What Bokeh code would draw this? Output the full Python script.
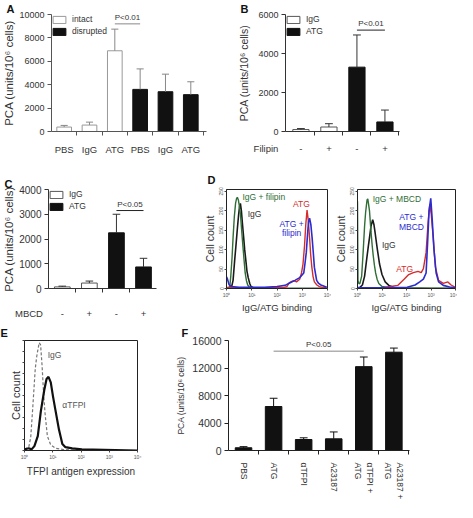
import math
from bokeh.plotting import figure
from bokeh.layouts import column, row
from bokeh.models import FixedTicker, Legend, LegendItem, ColumnDataSource
from bokeh.core.properties import value
from bokeh.embed import file_html
from bokeh.resources import INLINE

FONT = "Liberation Sans"
YLAB = "PCA (units/10\u2076 cells)"
NBSP = "\u00a0"

# ---------------- Panel A ----------------
a_cats = ["PBS", "IgG", "ATG", "PBS", "IgG", "ATG"]
a_groups = ["intact", "intact", "intact", "disrupted", "disrupted", "disrupted"]
a_means = [380, 550, 6900, 3600, 3400, 3150]
a_upper = [520, 800, 8750, 5350, 4900, 4250]
a_yticks = [0, 2000, 4000, 6000, 8000, 10000]
a_pcomp = (3, 4, 9200)
a_ptext = "P<0.01"

# ---------------- Panel B ----------------
b_cats = ["-", "+", "-", "+"]
b_groups = ["IgG", "IgG", "ATG", "ATG"]
b_means = [100, 230, 3300, 490]
b_upper = [150, 400, 4950, 1100]
b_yticks = [0, 2000, 4000, 6000]
b_pcomp = (3, 4, 5200)
b_ptext = "P<0.01"
b_treat = "Filipin"

# ---------------- Panel C ----------------
c_cats = ["-", "+", "-", "+"]
c_groups = ["IgG", "IgG", "ATG", "ATG"]
c_means = [65, 220, 2250, 870]
c_upper = [95, 300, 3000, 1220]
c_yticks = [0, 1000, 2000, 3000, 4000]
c_pcomp = (3, 4, 3150)
c_ptext = "P<0.05"
c_treat = "MBCD"

# ---------------- Panel D (flow cytometry, x in log10 decades) ----------------
d_xticks = [0, 1, 2, 3, 4]
d_xlabels = ["10\u2070", "10\u00b9", "10\u00b2", "10\u00b3", "10\u2074"]
d_yticks = [0, 50, 100, 150, 200, 250]

d1_green_x = [0.0, 0.08, 0.13, 0.17, 0.22, 0.26, 0.31, 0.36, 0.40, 0.43, 0.47, 0.51, 0.55, 0.60, 0.65, 0.70, 0.74, 0.79, 0.84, 0.9, 0.97, 1.2, 2.0, 3.0, 4.0]
d1_green_y = [3, 3, 5, 32, 80, 131, 185, 220, 232, 235, 228, 212, 193, 150, 109, 70, 40, 20, 9, 4, 2, 1, 0, 0, 0]
d1_black_x = [0.0, 0.1, 0.2, 0.26, 0.32, 0.38, 0.43, 0.48, 0.52, 0.55, 0.59, 0.63, 0.68, 0.72, 0.77, 0.81, 0.86, 0.92, 0.97, 1.1, 1.4, 2.0, 3.0, 4.0]
d1_black_y = [2, 2, 4, 21, 70, 115, 154, 190, 212, 219, 200, 168, 131, 100, 70, 45, 28, 13, 5, 1, 0, 0, 0, 0]
d1_red_x = [0.0, 1.0, 2.0, 2.13, 2.3, 2.39, 2.49, 2.58, 2.68, 2.77, 2.9, 2.97, 3.03, 3.09, 3.14, 3.19, 3.24, 3.29, 3.33, 3.38, 3.43, 3.48, 3.58, 3.68, 3.8, 3.94]
d1_red_y = [2, 2, 2, 2, 3, 5, 15, 18, 20, 17, 24, 40, 63, 110, 165, 202, 175, 131, 90, 55, 30, 17, 9, 5, 3, 2]
d1_blue_x = [0.0, 0.04, 0.1, 0.19, 0.5, 0.97, 1.5, 2.0, 2.32, 2.52, 2.71, 2.9, 3.06, 3.11, 3.16, 3.21, 3.25, 3.29, 3.34, 3.39, 3.44, 3.48, 3.57, 3.65, 3.74, 3.97]
d1_blue_y = [30, 24, 10, 5, 3, 3, 3, 5, 8, 15, 21, 28, 40, 65, 93, 140, 172, 181, 165, 131, 90, 55, 21, 13, 9, 3]

d2_green_x = [0.0, 0.02, 0.06, 0.1, 0.17, 0.23, 0.29, 0.33, 0.36, 0.39, 0.42, 0.45, 0.49, 0.55, 0.6, 0.64, 0.69, 0.74, 0.8, 0.87, 1.0, 1.26, 2.0, 3.0, 4.0]
d2_green_y = [225, 20, 12, 13, 32, 93, 162, 195, 212, 228, 231, 218, 200, 147, 110, 86, 60, 40, 24, 13, 5, 2, 1, 1, 1]
d2_black_x = [0.0, 0.1, 0.2, 0.29, 0.38, 0.44, 0.49, 0.55, 0.62, 0.67, 0.72, 0.81, 0.9, 1.0, 1.13, 1.28, 1.51, 2.0, 3.0, 4.0]
d2_black_y = [2, 3, 9, 32, 78, 108, 131, 160, 177, 165, 143, 101, 63, 36, 17, 8, 2, 1, 0, 0]
d2_red_x = [0.0, 1.0, 1.64, 1.9, 2.09, 2.28, 2.47, 2.6, 2.69, 2.8, 2.88, 2.95, 3.01, 3.09, 3.18, 3.31, 3.5, 3.69, 3.82, 4.0]
d2_red_y = [2, 2, 8, 24, 36, 41, 44, 41, 51, 93, 170, 217, 191, 131, 55, 21, 13, 17, 9, 3]
d2_blue_x = [0.0, 1.0, 2.03, 2.35, 2.54, 2.69, 2.8, 2.86, 2.92, 2.99, 3.05, 3.12, 3.21, 3.31, 3.5, 3.76, 4.0]
d2_blue_y = [2, 2, 3, 9, 17, 24, 40, 116, 200, 232, 177, 101, 40, 17, 8, 4, 2]

# ---------------- Panel E ----------------
e_yticks = [0, 10, 20, 30, 40, 50, 60, 70, 80, 90, 100]
e_igg_x = [0.0, 0.15, 0.22, 0.29, 0.34, 0.38, 0.43, 0.47, 0.52, 0.57, 0.62, 0.68, 0.73, 0.81, 0.93, 1.1, 1.35, 2.0, 4.0]
e_igg_y = [1, 3, 12, 38, 58, 74, 85, 91, 98, 96, 78, 50, 33, 13, 5, 2, 1, 0, 0]
e_tfpi_x = [0.0, 0.15, 0.25, 0.35, 0.47, 0.58, 0.7, 0.78, 0.85, 0.93, 1.01, 1.1, 1.22, 1.34, 1.45, 1.69, 2.03, 4.0]
e_tfpi_y = [1, 2, 1, 4, 13, 36, 55, 65, 67, 62, 49, 36, 19, 6, 3, 2, 1, 0]

# ---------------- Panel F ----------------
f_cats = ["PBS", "ATG", "\u03b1TFPI", "A23187", "\u03b1TFPI +\nATG", "A23187 +\nATG"]
f_means = [400, 6400, 1600, 1700, 12200, 14300]
f_upper = [560, 7600, 1850, 2700, 13600, 14900]
f_yticks = [0, 4000, 8000, 12000, 16000]
f_pcomp = (2, 5, 14450)
f_ptext = "P<0.05"


def base_fig(w, h, bl, br, bt, bb, xr, yr):
    p = figure(width=w, height=h, x_range=xr, y_range=yr, output_backend="svg",
               toolbar_location=None, min_border_left=bl, min_border_right=br,
               min_border_top=bt, min_border_bottom=bb)
    p.xgrid.visible = False
    p.ygrid.visible = False
    p.background_fill_color = "white"
    p.border_fill_color = "white"
    for ax in (p.xaxis[0], p.yaxis[0]):
        ax.major_label_text_font = FONT
        ax.axis_label_text_font = FONT
        ax.axis_label_text_font_style = "normal"
        ax.minor_tick_line_color = None
    return p


def panel_letter(p, txt, left_offset, standoff=0):
    p.title.text = txt
    p.title.align = "left"
    p.title.offset = left_offset
    p.title.text_font = FONT
    p.title.text_font_size = "11px"
    p.title.text_font_style = "bold"
    p.title.text_color = "#111111"
    p.title.standoff = standoff


def bar_panel(w, h, bl, br, bt, bb, xr, ymax, yticks, cats, means, upper, groups,
              styles, err_col, axis_col, txt_col, tick_fs, cat_fs, ylab_fs, pcomp, ptext,
              pcol, legend_on=True, orient="horizontal", label_standoff=8,
              ylab_standoff=3, cap=0.14, bw=0.58, treat=None, treat_pad=0):
    p = base_fig(w, h, bl, br, bt, bb, xr, (0, ymax))
    p.outline_line_color = None
    n = len(cats)
    xs = list(range(1, n + 1))
    items = []
    seen = []
    for g in groups:
        if g not in seen:
            seen.append(g)
    for g in seen:
        idx = [i for i in range(n) if groups[i] == g]
        src = ColumnDataSource(dict(x=[xs[i] for i in idx], top=[means[i] for i in idx]))
        r = p.vbar(x="x", top="top", bottom=0, width=bw, source=src,
                   fill_color=styles[g][0], line_color=styles[g][1], line_width=1)
        items.append(LegendItem(label=g, renderers=[r]))
    p.segment(x0=xs, y0=means, x1=xs, y1=upper, line_color=err_col, line_width=1)
    p.segment(x0=[x - cap for x in xs], y0=upper, x1=[x + cap for x in xs], y1=upper,
              line_color=err_col, line_width=1)
    # significance bar
    i0, i1, lev = pcomp
    p.segment(x0=[i0], y0=[lev], x1=[i1], y1=[lev], line_color=pcol, line_width=1)
    p.text(x=[(i0 + i1) / 2], y=[lev], text=[ptext], text_font=value(FONT),
           text_font_size="8px", text_color=txt_col, text_align="center",
           text_baseline="bottom", y_offset=-2)
    # axes
    xa, ya = p.xaxis[0], p.yaxis[0]
    ticks = list(xs)
    overrides = {x: c for x, c in zip(xs, cats)}
    if treat is not None:
        # row title of the x categories, written at the left end of the axis
        t0 = xr[0] + 0.01
        ticks = [t0] + ticks
        overrides[t0] = treat + NBSP * treat_pad
    xa.ticker = FixedTicker(ticks=ticks, minor_ticks=[x + 0.5 for x in xs])
    xa.major_label_overrides = overrides
    xa.major_tick_out = 0
    xa.major_tick_in = 0
    xa.minor_tick_line_color = axis_col
    xa.minor_tick_out = 4
    xa.minor_tick_in = 0
    xa.major_label_standoff = label_standoff
    xa.major_label_text_font_size = cat_fs
    xa.major_label_text_color = txt_col
    xa.major_label_orientation = orient
    ya.ticker = FixedTicker(ticks=yticks, minor_ticks=[])
    ya.major_tick_out = 4
    ya.major_tick_in = 0
    ya.major_label_standoff = 3
    ya.major_label_text_font_size = tick_fs
    ya.major_label_text_color = txt_col
    ya.axis_label = YLAB
    ya.axis_label_text_font_size = ylab_fs
    ya.axis_label_text_color = txt_col
    ya.axis_label_standoff = ylab_standoff
    for ax in (xa, ya):
        ax.axis_line_color = axis_col
        ax.major_tick_line_color = axis_col
    if legend_on:
        lg = Legend(items=items, location="top_left", margin=0, padding=3,
                    glyph_width=16, glyph_height=9, label_height=9, spacing=2,
                    label_standoff=5, label_text_font=FONT, label_text_font_size="8.5px",
                    label_text_color=txt_col, border_line_color=None,
                    background_fill_alpha=0)
        p.add_layout(lg)
    return p


def flow_panel(w, h, bl, br, bt, bb, ymax, yticks, show_ylabels, xlabel, xlab_fs):
    p = base_fig(w, h, bl, br, bt, bb, (0, 4), (0, ymax))
    p.outline_line_color = "#222"
    p.outline_line_width = 1
    xa, ya = p.xaxis[0], p.yaxis[0]
    xa.ticker = FixedTicker(ticks=d_xticks, minor_ticks=[])
    xa.major_label_overrides = {t: s for t, s in zip(d_xticks, d_xlabels)}
    ya.ticker = FixedTicker(ticks=yticks, minor_ticks=[])
    if show_ylabels:
        ya.major_label_overrides = {t: str(t) for t in yticks}
        ya.major_label_orientation = "vertical"
    else:
        ya.major_label_overrides = {t: "" for t in yticks}
    for ax in (xa, ya):
        ax.axis_line_color = "#222"
        ax.major_tick_line_color = "#444"
        ax.major_tick_out = 2
        ax.major_tick_in = 0
        ax.major_label_standoff = 1
        ax.major_label_text_font_size = "5px"
        ax.major_label_text_color = "#555"
        ax.axis_label_text_color = "#333"
        ax.axis_label_standoff = 1
    xa.axis_label = xlabel
    xa.axis_label_text_font_size = xlab_fs
    ya.axis_label = "Cell count"
    ya.axis_label_text_font_size = "10.5px"
    return p


def curve_label(p, x, y, txt, color, align="left"):
    p.text(x=[x], y=[y], text=[txt], text_font=value(FONT), text_font_size="8.5px",
           text_color=color, text_align=align, text_baseline="middle")


GREEN, BLACK, RED, BLUE = "#2f6e35", "#1a1a1a", "#d62b2b", "#2b2bd0"

# ---- A
wA, hA, blA, brA, btA, bbA = 228, 159, 45, 22, 12, 27
pA = bar_panel(wA, hA, blA, brA, btA, bbA, (0.5, 6.62), 10000, a_yticks, a_cats, a_means,
               a_upper, a_groups, {"intact": ("white", "#999999"), "disrupted": ("#111111", "#111111")},
               "#888888", "#555555", "#333333", "9px", "9.5px", "11.5px", a_pcomp, a_ptext,
               "#888888", ylab_standoff=1)
panel_letter(pA, "A", -blA)

# ---- B
wB, hB, blB, brB, btB, bbB = 229, 159, 57, 58, 11, 28
pB = bar_panel(wB, hB, blB, brB, btB, bbB, (0.45, 4.52), 6000, b_yticks, b_cats, b_means,
               b_upper, b_groups, {"IgG": ("white", "#555555"), "ATG": ("#111111", "#111111")},
               "#333333", "#333333", "#333333", "9px", "9.5px", "10.5px", b_pcomp, b_ptext,
               "#222222", label_standoff=7, ylab_standoff=5, treat=b_treat, treat_pad=15)
panel_letter(pB, "B", 12 - blB)

# ---- C
wC, hC, blC, brC, btC, bbC = 192, 162, 44, 36, 14, 30
pC = bar_panel(wC, hC, blC, brC, btC, bbC, (0.49, 4.48), 4000, c_yticks, c_cats, c_means,
               c_upper, c_groups, {"IgG": ("white", "#555555"), "ATG": ("#111111", "#111111")},
               "#333333", "#333333", "#333333", "10px", "9.5px", "11.5px", c_pcomp, c_ptext,
               "#222222", label_standoff=15, ylab_standoff=1, treat=c_treat, treat_pad=15)
panel_letter(pC, "C", -blC)

# ---- D1
wD1, hD1, blD1, brD1, btD1, bbD1 = 139, 162, 34, 4, 30, 26
pD1 = flow_panel(wD1, hD1, blD1, brD1, btD1, bbD1, 255, d_yticks, True, "IgG/ATG binding", "9.5px")
pD1.line(d1_black_x, d1_black_y, line_color=BLACK, line_width=1.6)
pD1.line(d1_green_x, d1_green_y, line_color=GREEN, line_width=1.4)
pD1.line(d1_red_x, d1_red_y, line_color=RED, line_width=1.4)
pD1.line(d1_blue_x, d1_blue_y, line_color=BLUE, line_width=1.6)
curve_label(pD1, 0.63, 235, "IgG + filipin", GREEN)
curve_label(pD1, 0.84, 193, "IgG", "#333333")
curve_label(pD1, 2.97, 217, "ATG", RED, "center")
curve_label(pD1, 2.58, 166, "ATG +", BLUE, "center")
curve_label(pD1, 2.58, 143, "filipin", BLUE, "center")
panel_letter(pD1, "D", 15 - blD1, standoff=7)

# ---- D2
wD2, hD2, blD2, brD2, btD2, bbD2 = 126, 162, 24, 2, 30, 26
pD2 = flow_panel(wD2, hD2, blD2, brD2, btD2, bbD2, 255, d_yticks, True, "IgG/ATG binding", "9.5px")
pD2.line(d2_black_x, d2_black_y, line_color=BLACK, line_width=1.6)
pD2.line(d2_green_x, d2_green_y, line_color=GREEN, line_width=1.4)
pD2.line(d2_red_x, d2_red_y, line_color=RED, line_width=1.4)
pD2.line(d2_blue_x, d2_blue_y, line_color=BLUE, line_width=1.6)
curve_label(pD2, 0.62, 231, "IgG + MBCD", GREEN)
curve_label(pD2, 1.0, 112, "IgG", "#333333")
curve_label(pD2, 1.58, 51, "ATG", RED)
curve_label(pD2, 2.2, 185, "ATG +", BLUE, "center")
curve_label(pD2, 2.2, 158, "MBCD", BLUE, "center")

# ---- E
wE, hE, blE, brE, btE, bbE = 173, 181, 24, 36, 19, 44
pE = flow_panel(wE, hE, blE, brE, btE, bbE, 100, e_yticks, False, "TFPI antigen expression", "10px")
pE.yaxis[0].axis_label_text_font_size = "11px"
pE.xaxis[0].axis_label_standoff = 3
pE.line(e_igg_x, e_igg_y, line_color="#777777", line_width=1.2, line_dash="3 2")
pE.line(e_tfpi_x, e_tfpi_y, line_color="#111111", line_width=2.2)
curve_label(pE, 0.82, 87, "IgG", "#555555")
curve_label(pE, 1.34, 41, "\u03b1TFPI", "#555555")
panel_letter(pE, "E", -blE, standoff=3)

# ---- F
wF, hF, blF, brF, btF, bbF = 284, 181, 55, 48, 19, 46
f_groups = ["all"] * len(f_cats)
pF = bar_panel(wF, hF, blF, brF, btF, bbF, (0.5, 6.52), 16000, f_yticks, f_cats, f_means,
               f_upper, f_groups, {"all": ("#111111", "#111111")},
               "#111111", "#222222", "#333333", "10.5px", "8.5px", "8.5px", f_pcomp, f_ptext,
               "#888888", legend_on=False, orient=-math.pi / 2, label_standoff=8,
               ylab_standoff=3, cap=0.13, bw=0.55)
panel_letter(pF, "F", 8 - blF, standoff=3)

layout = column(row(pA, pB), row(pC, pD1, pD2), row(pE, pF))
open("out.html", "w").write(file_html(layout, INLINE))
